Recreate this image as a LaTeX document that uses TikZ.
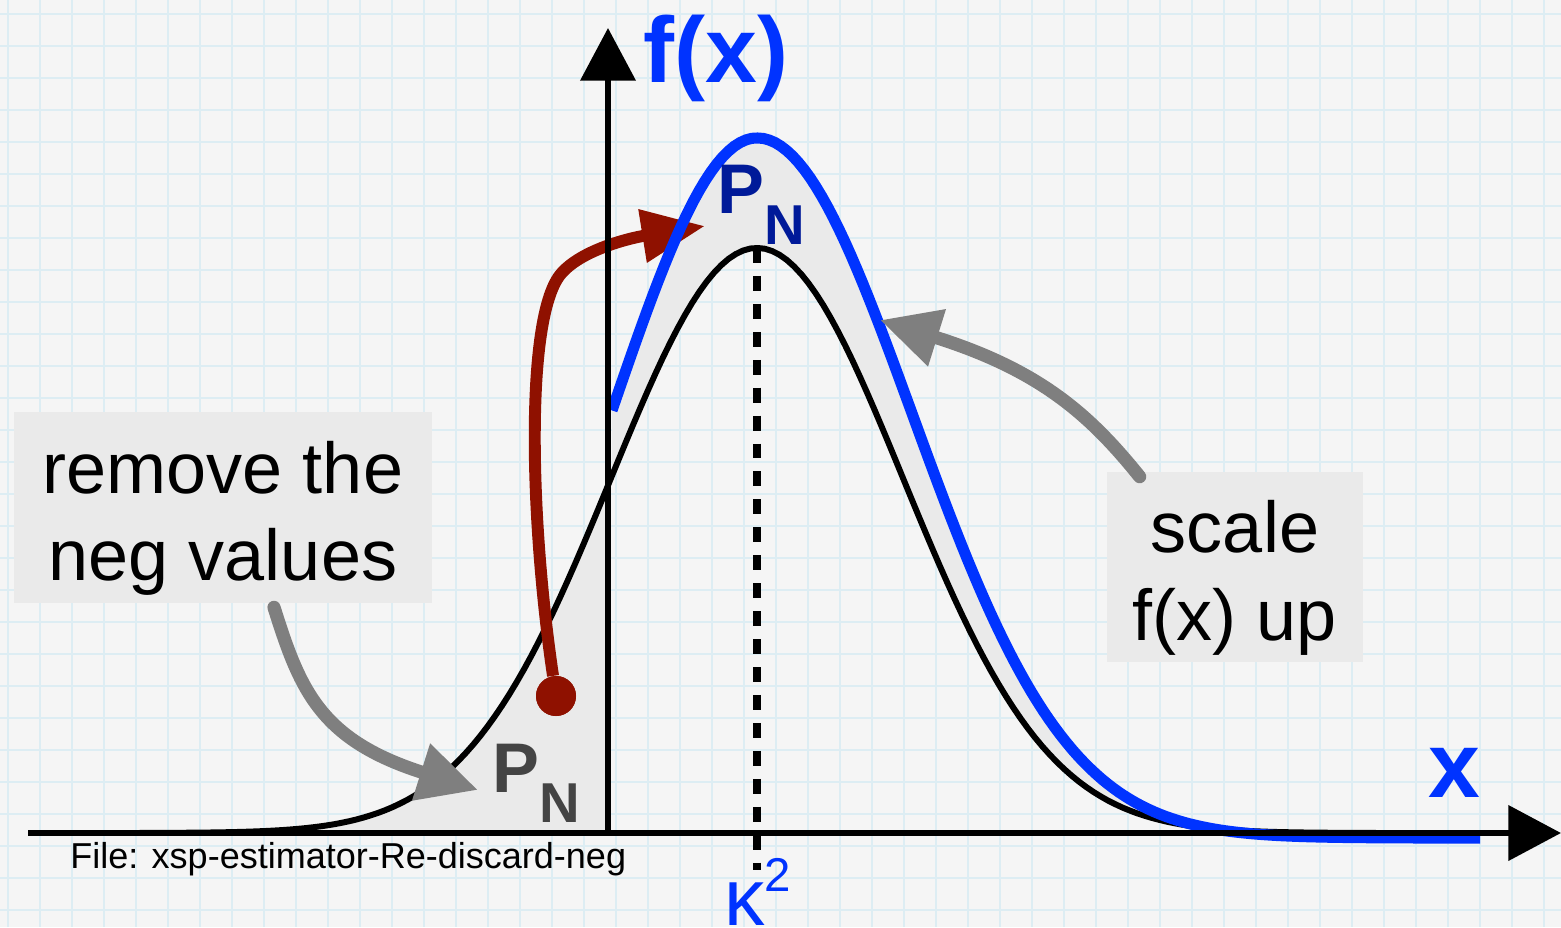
\documentclass[tikz,border=0pt]{standalone}
\usepackage{fontspec}
\setmainfont{Liberation Sans}
\usetikzlibrary{arrows.meta,calc}
\definecolor{paper}{HTML}{F5F5F5}
\definecolor{gridc}{HTML}{DDEDF3}
\definecolor{boxfill}{HTML}{EAEAEA}
\definecolor{fblue}{HTML}{0033FF}
\definecolor{navy}{HTML}{001A99}
\definecolor{rust}{HTML}{8F1100}
\definecolor{pgray}{HTML}{444444}
\definecolor{agray}{HTML}{7F7F7F}
\tikzset{
  gridln/.style={draw=gridc,line width=1.2pt},
  axis/.style={line width=3.4pt,-{Triangle[length=30pt,width=31pt]}},
  curve/.style={line width=3.4pt},
  scaled/.style={draw=fblue,line width=6.3pt},
  kline/.style={line width=4pt,dash pattern=on 8.5pt off 7.4pt},
  note/.style={fill=boxfill,align=center,inner sep=0pt,font=\fontsize{41}{50}\selectfont},
  ptr/.style={draw=agray,line width=7.5pt,line cap=round,-{Triangle[length=34pt,width=32pt]}},
  mv/.style={draw=rust,line width=6.8pt,-{Triangle[length=36pt,width=29pt]}},
  pn/.style={anchor=base west,inner sep=0pt,font=\bfseries\fontsize{40}{40}\selectfont},
  lbl/.style={anchor=base west,inner sep=0pt,text=fblue,font=\bfseries\fontsize{53}{53}\selectfont},
}

\begin{document}
\begin{tikzpicture}[x=0.02cm,y=-0.02cm,
  declare function={g(\t)=exp(-0.5*((\t-757)/146)^2);
    gb(\t)=exp(-0.5*((\t-757)/ifthenelse(\t<757,146,155))^2);}]
\path[use as bounding box,fill=paper] (0,0) rectangle (1561,927);
\foreach \gx in {8,40,...,1560} \draw[gridln] (\gx,0) -- (\gx,927);
\foreach \gy in {14,46,...,926} \draw[gridln] (0,\gy) -- (1561,\gy);

\fill[boxfill] (150,833) -- plot[domain=150:608,samples=80] (\x,{833-585*g(\x)}) -- (608,833) -- cycle;
\fill[boxfill] plot[domain=612:1480,samples=150] (\x,{838-700*gb(\x)})
  -- plot[domain=1480:612,samples=150] (\x,{833-585*g(\x)}) -- cycle;

\draw[curve] plot[domain=28:1480,samples=200] (\x,{833-585*g(\x)});

\node[circle,fill=rust,minimum size=0.8cm,inner sep=0pt] (src) at (556,696) {};
\coordinate (pntip) at (705,226);
\draw[mv] (src) .. controls (530,520) and (525,320) .. (560,275)
  .. controls (580,250) and (630,238) .. (pntip);
\node[circle,fill=rust,minimum size=0.8cm,inner sep=0pt] at (src) {};

\draw[scaled] plot[domain=612:1480,samples=150] (\x,{838-700*gb(\x)});

\coordinate (peak) at (757,248);
\coordinate (kfoot) at (757,870);
\draw[kline] (peak) -- (kfoot);

\coordinate (xl) at (28,833);
\coordinate (xr) at (1561,833);
\coordinate (o) at (608,833);
\coordinate (yt) at (608,28);
\draw[axis] (xl) -- (xr);
\draw[axis] (o) -- (yt);

\node[pn,text=pgray] (pnlo) at (492,792) {P\raisebox{-17.6pt}{\fontsize{32}{32}\selectfont N}};
\node[pn,text=navy] (pnhi) at (717,213) {P\raisebox{-18pt}{\fontsize{32}{32}\selectfont N}};

\node[lbl] (fx) at (643,82) {f(x)};
\node[lbl] (xlab) at (1428,797) {x};
\node[anchor=base west,inner sep=0pt,text=fblue,font=\fontsize{46}{46}\selectfont] (kap) at (724,925)
  {κ\raisebox{19pt}{\fontsize{27}{27}\selectfont 2}};
\node[anchor=base west,inner sep=0pt,font=\fontsize{20.5}{24}\selectfont] (fname) at (70,868)
  {File: xsp-estimator-Re-discard-neg};

\node[note,minimum width=8.36cm,minimum height=3.82cm] (neg) at (223,507.5)
  {\rule{0pt}{42pt}remove the\\neg values};
\node[note,minimum width=5.12cm,minimum height=3.8cm] (scl) at (1235,567)
  {\rule{0pt}{42pt}scale\\f(x) up};

\coordinate (negtip) at (478,790);
\coordinate (scltip) at (880,320);
\draw[ptr] ($(neg.south)+(51,4)$) .. controls (300,690) and (320,740) .. (negtip);
\draw[ptr] ($(scl.north west)+(33,5)$) .. controls (1090,415) and (1040,370) .. (scltip);
\end{tikzpicture}
\end{document}
